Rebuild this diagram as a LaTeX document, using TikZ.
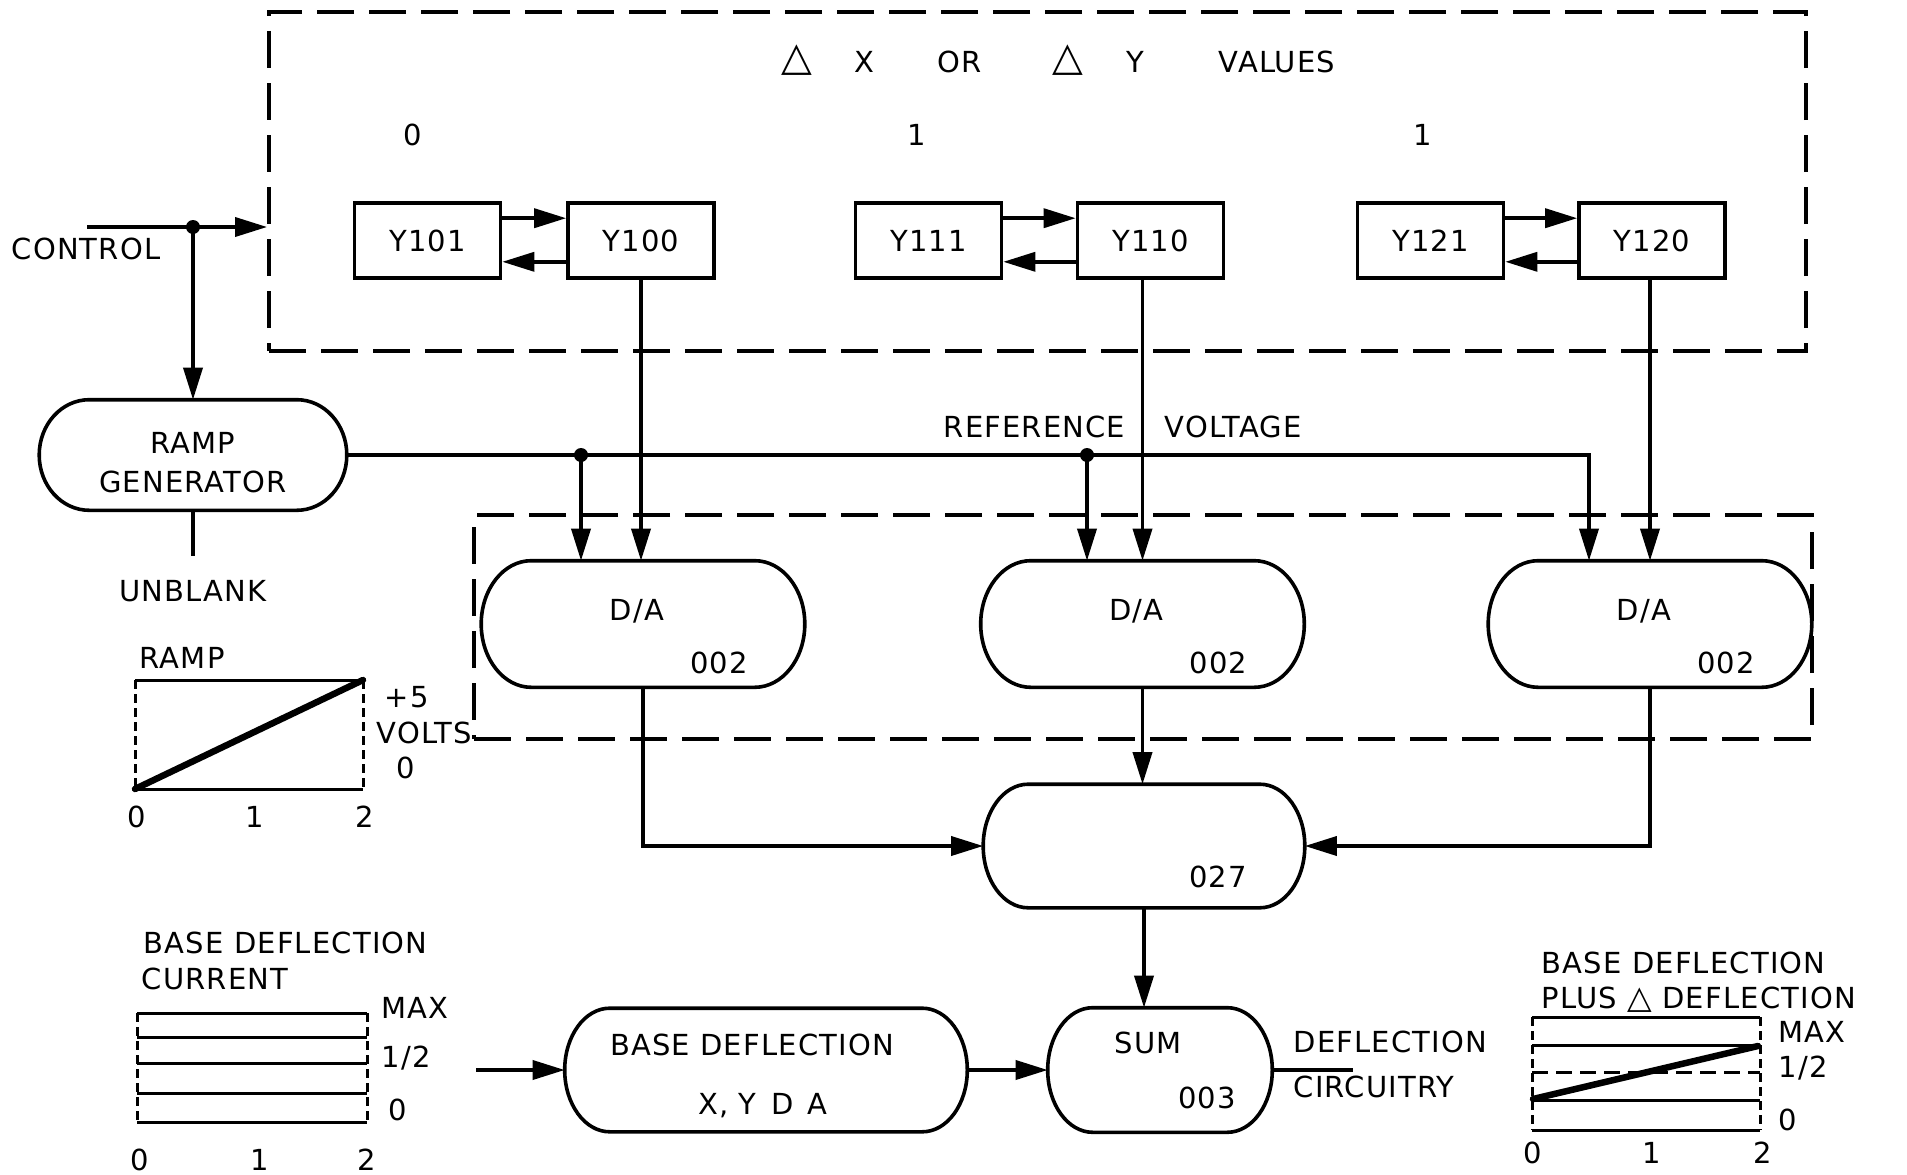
\documentclass[tikz,border=0pt]{standalone}
\usepackage{fontspec}
\setmainfont{DejaVu Sans}[LetterSpace=4]
\usetikzlibrary{arrows.meta,calc}
\newcommand\pillout[2]{%
  \draw[boxline] let \p1=(#1.north west), \p2=(#1.south east), \n1={0.5*(\y1-\y2)} in
    (\x1+#2pt,\y1) -- (\x2-#2pt,\y1)
    arc[start angle=90,end angle=-90,x radius=#2pt,y radius={\n1*1pt}]
    -- (\x1+#2pt,\y2)
    arc[start angle=270,end angle=90,x radius=#2pt,y radius={\n1*1pt}] -- cycle;}
\newcommand\bigtri{{\fontsize{40}{40}\selectfont △}}
\newcommand\midtri{{\fontsize{32}{32}\selectfont △}}
\begin{document}
\begin{tikzpicture}[x=1pt,y=-1pt,line width=3.6pt,
  every node/.style={font=\fontsize{29}{35}\selectfont, inner sep=0pt, text height=21pt, text depth=0pt},
  boxline/.style={line width=3.6pt,line join=round},
  arr/.style={-{Triangle[length=32pt,width=19pt]}},
  ybox/.style={draw,rectangle,minimum width=146pt,minimum height=75pt,line width=3.6pt},
  pill/.style={rectangle,draw=none},
  dashbox/.style={draw,rectangle,dash pattern=on 37pt off 15pt,line width=3.8pt},
  gline/.style={line width=3pt},
  gdash/.style={line width=3pt,dash pattern=on 9pt off 5pt},
  thickline/.style={line width=6.5pt,line cap=round}]

\useasboundingbox (0,0) rectangle (1907,1175);
\fill[white] (0,0) rectangle (1907,1175);

% dashed enclosures
\node[dashbox,minimum width=1537pt,minimum height=339pt] (topbox) at (1037.5,181.5) {};
\node[dashbox,minimum width=1338pt,minimum height=224pt] (lowbox) at (1143,627) {};

% title
\node (tri1) at (797,60) {\bigtri};
\node (tx) at (864,62) {X};
\node (tor) at (960,62) {OR};
\node (tri2) at (1068,60) {\bigtri};
\node (ty) at (1135,62) {Y};
\node (tval) at (1277,62) {VALUES};
\node (n0) at (413,135) {0};
\node (n1) at (917,135) {1};
\node (n2) at (1423,135) {1};

% registers
\node[ybox] (y101) at (427.5,240.5) {Y101};
\node[ybox] (y100) at (641,240.5) {Y100};
\node[ybox] (y111) at (928.5,240.5) {Y111};
\node[ybox] (y110) at (1150.5,240.5) {Y110};
\node[ybox] (y121) at (1430.5,240.5) {Y121};
\node[ybox] (y120) at (1652,240.5) {Y120};
\foreach \a/\b in {y101/y100,y111/y110,y121/y120}{
  \draw[arr] ($(\a.north east)+(0,17)$) -- ($(\b.north west)+(0,17)$);
  \draw[arr] ($(\b.south west)+(0,-18)$) -- ($(\a.south east)+(0,-18)$);
}

% control
\node (ctrl) at (86,249) {CONTROL};
\coordinate (cstart) at (87,227);
\coordinate (cdot) at (193,227);
\draw[arr] (cstart) -- (cstart -| topbox.west);

% ramp generator
\node[pill,minimum width=304pt,minimum height=107pt] (ramp) at (193,455) {};
\pillout{ramp}{50}
\node (rampt) at (193,443) {RAMP};
\node (gent) at (193,482) {GENERATOR};
\draw[arr] (cdot) -- (ramp.north);
\fill (cdot) circle (7pt);
\draw (ramp.south) -- ++(0,46) coordinate (unbl);
\node (unblank) at (193,591) {UNBLANK};

% D/A converters
\node[pill,minimum width=320pt,minimum height=123pt] (da1) at (643,624) {};
\node[pill,minimum width=320pt,minimum height=123pt] (da2) at (1142.5,624) {};
\node[pill,minimum width=320pt,minimum height=123pt] (da3) at (1650,624) {};
\foreach \d in {da1,da2,da3}{
  \pillout{\d}{50}
  \node at ($(\d)+(-6,-14)$) {D/A};
  \node at ($(\d)+(76,39)$) {002};
}

% reference voltage
\coordinate (rd1) at (581,455);
\coordinate (rd2) at (1087,455);
\coordinate (rv3) at (1589,455);
\draw[arr] (ramp.east) -- (rv3) -- (rv3 |- da3.north);
\draw[arr] (rd1) -- (rd1 |- da1.north);
\draw[arr] (rd2) -- (rd2 |- da2.north);
\fill (rd1) circle (7pt);
\fill (rd2) circle (7pt);
\node[anchor=east] (reft) at (1127,427) {REFERENCE};
\node[anchor=west] (volt) at (1163,427) {VOLTAGE};

\draw[arr] (y100.south) -- (y100.south |- da1.north);
\draw[arr] (da2.north |- y110.south) -- (da2.north);
\draw[arr] (da3.north |- y120.south) -- (da3.north);

% 027
\node[pill,minimum width=318pt,minimum height=120pt] (c027) at (1144,846) {};
\pillout{c027}{45}
\node at (1218,877) {027};
\draw[arr] (da1.south) |- (c027.west);
\draw[arr] (da2.south) -- (da2.south |- c027.north);
\draw[arr] (da3.south) |- (c027.east);

% sum
\node[pill,minimum width=221pt,minimum height=121pt] (sum) at (1160,1070) {};
\pillout{sum}{45}
\node at (1148,1043) {SUM};
\node at (1207,1098) {003};
\draw[arr] (c027.south) -- (c027.south |- sum.north);
\draw (sum.east) -- ++(81,0) coordinate (dout);
\node[anchor=west] (defl) at (1292,1042) {DEFLECTION};
\node[anchor=west] (circ) at (1292,1087) {CIRCUITRY};

% base deflection
\node[pill,minimum width=399pt,minimum height=120pt] (base) at (766,1070) {};
\pillout{base}{45}
\node at (752,1045) {BASE DEFLECTION};
\node at (763,1104) {X,\ Y\enspace D\enspace A};
\coordinate (bin) at (476,1070);
\draw[arr] (bin) -- (base.west);
\draw[arr] (base.east) -- (sum.west);

% ramp graph
\draw[gline] (135,680) -- (363,680);
\draw[gline] (135,789) -- (363,789);
\draw[gdash] (135,680) -- (135,789);
\draw[gdash] (363,680) -- (363,789);
\draw[thickline] (135,789) -- (363,680);
\node[anchor=west] at (138,658) {RAMP};
\node[anchor=west] at (383,697) {+5};
\node[anchor=west] at (375,733) {VOLTS};
\node[anchor=west] at (395,768) {0};
\node at (137,817) {0};
\node at (255,817) {1};
\node at (365,817) {2};

% base deflection current graph
\foreach \yy in {1013,1037,1063,1093,1122}
  \draw[gline] (137,\yy) -- (367,\yy);
\draw[gdash] (137,1013) -- (137,1122);
\draw[gdash] (367,1013) -- (367,1122);
\node[anchor=west] at (142,943) {BASE DEFLECTION};
\node[anchor=west] at (140,979) {CURRENT};
\node[anchor=west] at (380,1008) {MAX};
\node[anchor=west] at (380,1057) {1/2};
\node[anchor=west] at (387,1110) {0};
\node at (140,1160) {0};
\node at (260,1160) {1};
\node at (367,1160) {2};

% base plus delta graph
\foreach \yy in {1017,1045,1100,1130}
  \draw[gline] (1532,\yy) -- (1760,\yy);
\draw[gline,dash pattern=on 16pt off 8pt] (1532,1072) -- (1760,1072);
\draw[gdash] (1532,1017) -- (1532,1130);
\draw[gdash] (1760,1017) -- (1760,1130);
\draw[thickline] (1533,1099) -- (1758,1046);
\node[anchor=west] at (1540,963) {BASE DEFLECTION};
\node[anchor=west] at (1540,998) {PLUS \midtri\ DEFLECTION};
\node[anchor=west] at (1777,1032) {MAX};
\node[anchor=west] at (1777,1067) {1/2};
\node[anchor=west] at (1777,1120) {0};
\node at (1533,1153) {0};
\node at (1652,1153) {1};
\node at (1763,1153) {2};
\end{tikzpicture}
\end{document}
